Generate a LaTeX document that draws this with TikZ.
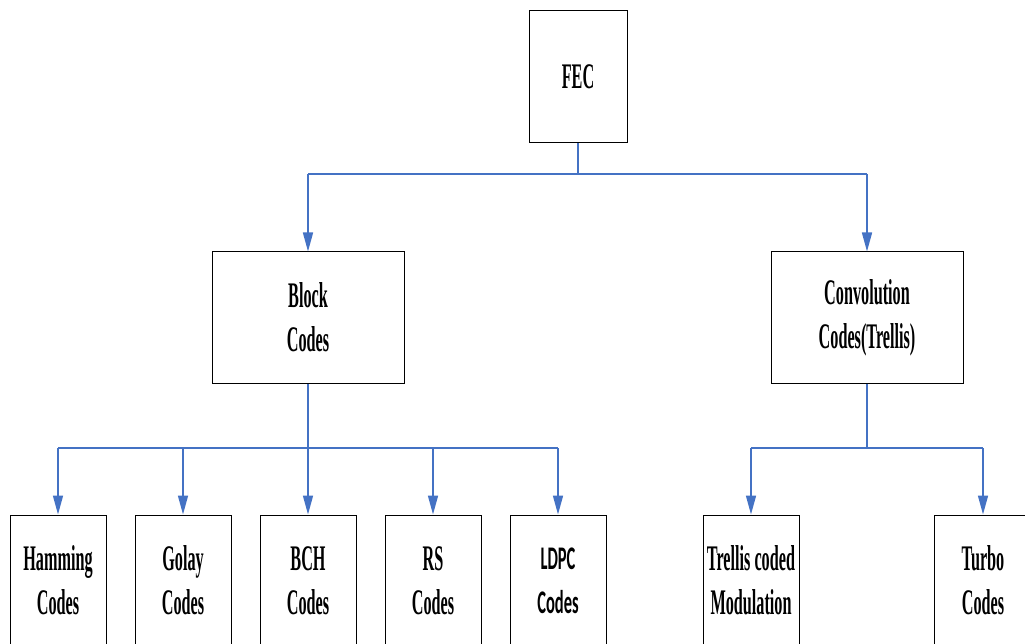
\documentclass[tikz,border=0pt]{standalone}
\usepackage{fontspec}
\usetikzlibrary{arrows.meta}
\newfontfamily\condserif[FakeStretch=0.45]{Liberation Serif Bold}
\newfontfamily\condsans[FakeStretch=0.5]{Carlito Bold}
\definecolor{linkblue}{HTML}{4472C4}
\tikzset{
  box/.style={draw=black, line width=1pt, fill=white, align=center,
    inner sep=0pt, font=\fontsize{36pt}{44pt}\selectfont\condserif},
  topbox/.style={box, minimum width=98pt, minimum height=132pt},
  midbox/.style={box, minimum width=192pt, minimum height=131pt},
  leafbox/.style={box, minimum width=96pt, minimum height=131pt},
  bar/.style={draw=linkblue, line width=2.6pt},
  stem/.style={draw=linkblue, line width=1.6pt},
  arr/.style={stem, -{Triangle[length=19pt,width=10pt]}},
}
\begin{document}
\begin{tikzpicture}[x=1pt,y=-1pt]
  \useasboundingbox (0,0) rectangle (1025,644);
  \clip (0,0) rectangle (1025,644);

  % tree nodes
  \node[topbox] (fec) at (578,77) {FEC};
  \node[midbox] (block) at (308,317.5) {Block\\Codes};
  \node[midbox] (conv) at (867,317.5) {Convolution\\Codes(Trellis)};

  \node[leafbox] (ham) at (58,580.5) {Hamming\\Codes};
  \node[leafbox] (gol) at (183,580.5) {Golay\\Codes};
  \node[leafbox] (bch) at (308,580.5) {BCH\\Codes};
  \node[leafbox] (rs) at (433,580.5) {RS\\Codes};
  \node[leafbox, font=\fontsize{33pt}{44pt}\selectfont\condsans] (ldpc) at (558,580.5) {LDPC\\Codes};
  \node[leafbox] (tcm) at (751,580.5) {Trellis coded\\Modulation};
  \node[leafbox, minimum width=98pt] (turbo) at (983,580.5) {Turbo\\Codes};

  % junction points of the branch bars
  \coordinate (j0) at (578,174);
  \coordinate (j1) at (308,448);
  \coordinate (j2) at (867,448);

  % FEC to the two families
  \draw[stem] (fec.south) -- (j0);
  \draw[bar] (block.north |- j0) -- (conv.north |- j0);
  \draw[arr] (block.north |- j0) -- (block.north);
  \draw[arr] (conv.north |- j0) -- (conv.north);

  % block codes
  \draw[stem] (block.south) -- (j1);
  \draw[bar] (ham.north |- j1) -- (ldpc.north |- j1);
  \foreach \n in {ham,gol,bch,rs,ldpc}
    \draw[arr] (\n.north |- j1) -- (\n.north);

  % convolutional codes
  \draw[stem] (conv.south) -- (j2);
  \draw[bar] (tcm.north |- j2) -- (turbo.north |- j2);
  \foreach \n in {tcm,turbo}
    \draw[arr] (\n.north |- j2) -- (\n.north);
\end{tikzpicture}
\end{document}
